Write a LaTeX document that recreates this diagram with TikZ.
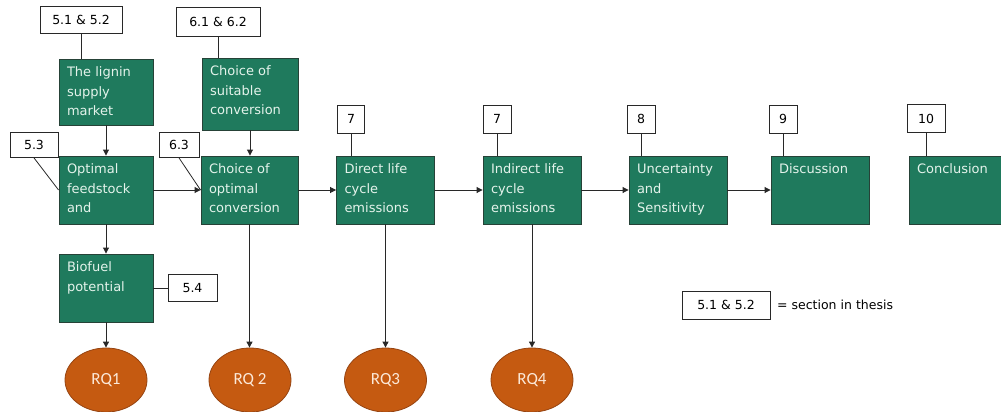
\documentclass[tikz,border=0pt]{standalone}
\usepackage{fontspec}
\setmainfont{DejaVu Sans}
\newfontfamily\rqfont{Carlito}
\usetikzlibrary{arrows.meta,shapes.geometric}
\definecolor{gfill}{RGB}{31,122,93}
\definecolor{gdraw}{RGB}{38,66,55}
\definecolor{gtext}{RGB}{228,243,235}
\definecolor{ofill}{RGB}{197,90,17}
\definecolor{odraw}{RGB}{150,68,18}
\definecolor{otext}{RGB}{252,233,217}
\definecolor{lin}{RGB}{40,40,40}
\newcommand\gtx[3]{\parbox[c][#2pt][t]{#1pt}{\raggedright #3}}
\tikzset{
  gbox/.style={rectangle, draw=gdraw, fill=gfill, text=gtext, line width=0.9pt,
    inner xsep=8pt, inner ysep=8pt, font=\fontsize{13}{19.5}\selectfont},
  lab/.style={rectangle, draw=lin, fill=white, line width=0.8pt, inner sep=0pt,
    minimum height=27pt, text=black, font=\fontsize{12.5}{14}\selectfont},
  rq/.style={ellipse, draw=odraw, fill=ofill, line width=0.8pt, text=otext,
    minimum width=82pt, minimum height=64pt, inner sep=0pt, font=\rqfont\fontsize{17}{20}\selectfont},
  con/.style={draw=lin, line width=0.8pt},
  arr/.style={draw=lin, line width=0.9pt, -{Triangle[length=6pt,width=6pt]}},
}
\begin{document}
\begin{tikzpicture}[x=1pt,y=-1pt]
\useasboundingbox (0,0) rectangle (1001,412);
% green boxes
\node[gbox] (lignin) at (106,92) {\gtx{78}{50}{The lignin\\supply\\market}};
\node[gbox] (suitable) at (250,94) {\gtx{80}{56}{Choice of\\suitable\\conversion}};
\node[gbox] (optimal) at (106,190) {\gtx{78}{52}{Optimal\\feedstock\\and}};
\node[gbox] (choice) at (249.5,190) {\gtx{81}{52}{Choice of\\optimal\\conversion}};
\node[gbox] (direct) at (385.5,190) {\gtx{82}{52}{Direct life\\cycle\\emissions}};
\node[gbox] (indirect) at (532,190) {\gtx{82}{52}{Indirect life\\cycle\\emissions}};
\node[gbox] (uncert) at (678,190) {\gtx{82}{52}{Uncertainty\\and\\Sensitivity}};
\node[gbox] (discuss) at (820,190) {\gtx{82}{52}{Discussion}};
\node[gbox] (concl) at (957,190) {\gtx{80}{52}{Conclusion}};
\node[gbox] (biofuel) at (106,288) {\gtx{78}{52}{Biofuel\\potential}};
% section labels
\node[lab, minimum width=82pt] (l512) at (81,19.5) {5.1 \& 5.2};
\node[lab, minimum width=84pt, minimum height=29pt] (l612) at (218,21.5) {6.1 \& 6.2};
\node[lab, minimum width=48pt, minimum height=25pt] (l53) at (34,145) {5.3};
\node[lab, minimum width=40pt, minimum height=25pt] (l63) at (179,145) {6.3};
\node[lab, minimum width=27pt, minimum height=28pt] (l7a) at (351,119) {7};
\node[lab, minimum width=28pt, minimum height=28pt] (l7b) at (497,119) {7};
\node[lab, minimum width=28pt, minimum height=28pt] (l8) at (641,119) {8};
\node[lab, minimum width=28pt, minimum height=28pt] (l9) at (783,119) {9};
\node[lab, minimum width=38pt, minimum height=28pt] (l10) at (926,118.5) {10};
\node[lab, minimum width=49pt] (l54) at (192.5,288) {5.4};
\node[lab, minimum width=88pt, minimum height=28pt] (legend) at (726,305) {5.1 \& 5.2};
\node[anchor=west, inner sep=0pt, font=\fontsize{12.5}{14}\selectfont] (legtext) at (777,305) {= section in thesis};
% research questions
\node[rq] (rq1) at (106,380) {RQ1};
\node[rq] (rq2) at (250,380) {RQ 2};
\node[rq] (rq3) at (385.5,380) {RQ3};
\node[rq] (rq4) at (532,380) {RQ4};
% label connectors
\draw[con] (l512.south) -- (l512.south |- lignin.north);
\draw[con] (l612.south) -- (l612.south |- suitable.north);
\draw[con] (l53.south) -- (optimal.west);
\draw[con] (l63.south) -- (choice.west);
\draw[con] (l7a.south) -- (l7a.south |- direct.north);
\draw[con] (l7b.south) -- (l7b.south |- indirect.north);
\draw[con] (l8.south) -- (l8.south |- uncert.north);
\draw[con] (l9.south) -- (l9.south |- discuss.north);
\draw[con] (l10.south) -- (l10.south |- concl.north);
\draw[con] (biofuel.east) -- (l54.west);
% flow arrows
\draw[arr] (lignin.south) -- (optimal.north);
\draw[arr] (suitable.south) -- (suitable.south |- choice.north);
\draw[arr] (optimal.east) -- (choice.west);
\draw[arr] (choice.east) -- (direct.west);
\draw[arr] (direct.east) -- (indirect.west);
\draw[arr] (indirect.east) -- (uncert.west);
\draw[arr] (uncert.east) -- (discuss.west);
\draw[arr] (optimal.south) -- (biofuel.north);
\draw[arr] (biofuel.south) -- (rq1.north);
\draw[arr] (choice.south) -- (choice.south |- rq2.north);
\draw[arr] (direct.south) -- (rq3.north);
\draw[arr] (indirect.south) -- (rq4.north);
\end{tikzpicture}
\end{document}
